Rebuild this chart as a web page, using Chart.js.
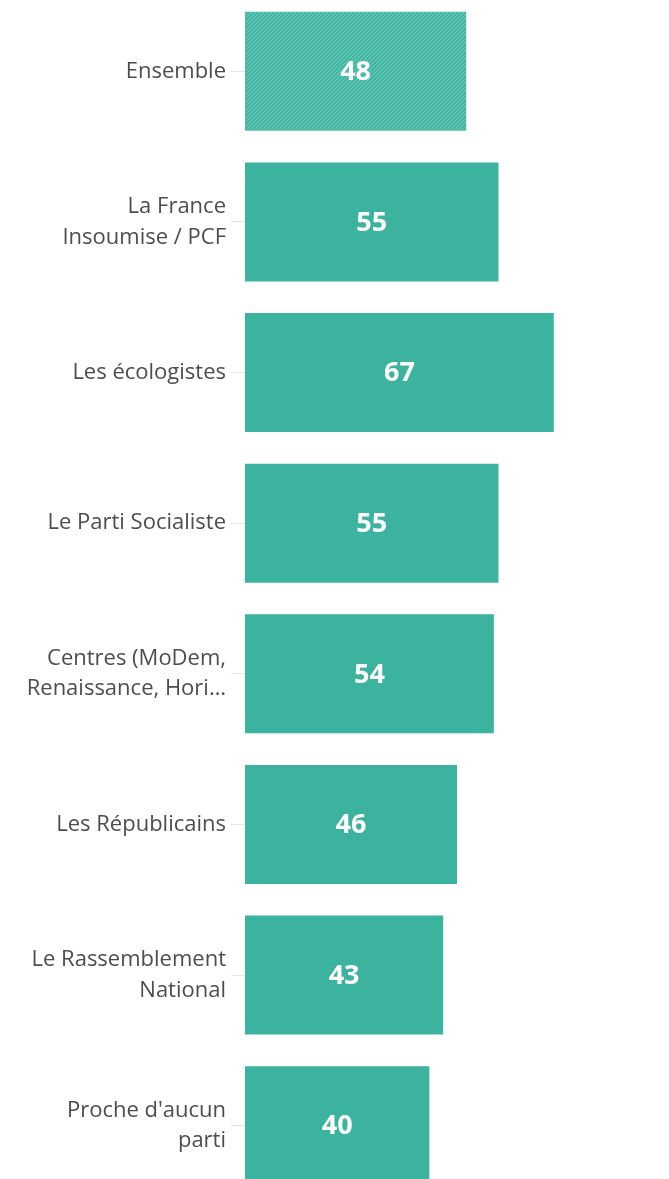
<!DOCTYPE html>
<html>
<head>
<meta charset="utf-8">
<script src="https://cdn.jsdelivr.net/npm/chart.js@4"></script>
<style>
  html, body { margin:0; padding:0; background:#fff; overflow:hidden; }
  #wrap { position:absolute; left:0; top:-4px; width:669px; height:1205px; }
</style>
</head>
<body>
<div id="wrap"><canvas id="chart" width="669" height="1205"></canvas></div>
<script>
const categories = [
  "Ensemble",
  ["La France", "Insoumise / PCF"],
  "Les écologistes",
  "Le Parti Socialiste",
  ["Centres (MoDem,", "Renaissance, Hori…"],
  "Les Républicains",
  ["Le Rassemblement", "National"],
  ["Proche d'aucun", "parti"]
];
const values = [48, 55, 67, 55, 54, 46, 43, 40];

const teal = "#3bb39e";

// hatched pattern for the "Ensemble" bar
function makeHatch() {
  const c = document.createElement("canvas");
  c.width = 4; c.height = 4;
  const g = c.getContext("2d");
  g.fillStyle = teal;
  g.fillRect(0, 0, 4, 4);
  g.strokeStyle = "#6fcab8";
  g.lineWidth = 1.2;
  g.beginPath();
  g.moveTo(0, 4); g.lineTo(4, 0);
  g.moveTo(-1, 1); g.lineTo(1, -1);
  g.moveTo(3, 5); g.lineTo(5, 3);
  g.stroke();
  return g.createPattern(c, "repeat");
}

const colors = values.map((v, i) => i === 0 ? makeHatch() : teal);

// white value labels centred in each bar
const valueLabels = {
  id: "valueLabels",
  afterDatasetsDraw(chart) {
    const ctx = chart.ctx;
    const meta = chart.getDatasetMeta(0);
    ctx.save();
    ctx.fillStyle = "#fff";
    ctx.font = "bold 27px 'Open Sans', sans-serif";
    ctx.textAlign = "center";
    ctx.textBaseline = "middle";
    meta.data.forEach((bar, i) => {
      ctx.fillText(values[i], (bar.x + bar.base) / 2, bar.y + 1);
    });
    ctx.restore();
  }
};

new Chart(document.getElementById("chart"), {
  type: "bar",
  data: {
    labels: categories,
    datasets: [{ data: values, backgroundColor: colors, borderWidth: 0,
      barPercentage: 0.79, categoryPercentage: 1 }]
  },
  options: {
    indexAxis: "y",
    responsive: false,
    animation: false,
    devicePixelRatio: 1,
    layout: { padding: 0 },
    plugins: { legend: { display: false }, tooltip: { enabled: false } },
    scales: {
      x: { display: false, min: 0, max: 92 },
      y: {
        afterFit(scale) {
          scale.width = 245;
          scale.paddingTop = 0;
          scale.paddingBottom = 0;
        },
        border: { display: false },
        grid: { offset: false, drawOnChartArea: false, drawTicks: true, tickLength: 14, color: "#e6e6e6" },
        ticks: {
          color: "#4d4d4d",
          padding: 5,
          font: { family: "'Open Sans', sans-serif", size: 22, lineHeight: 1.4 }
        }
      }
    }
  },
  plugins: [valueLabels]
});
</script>
</body>
</html>
